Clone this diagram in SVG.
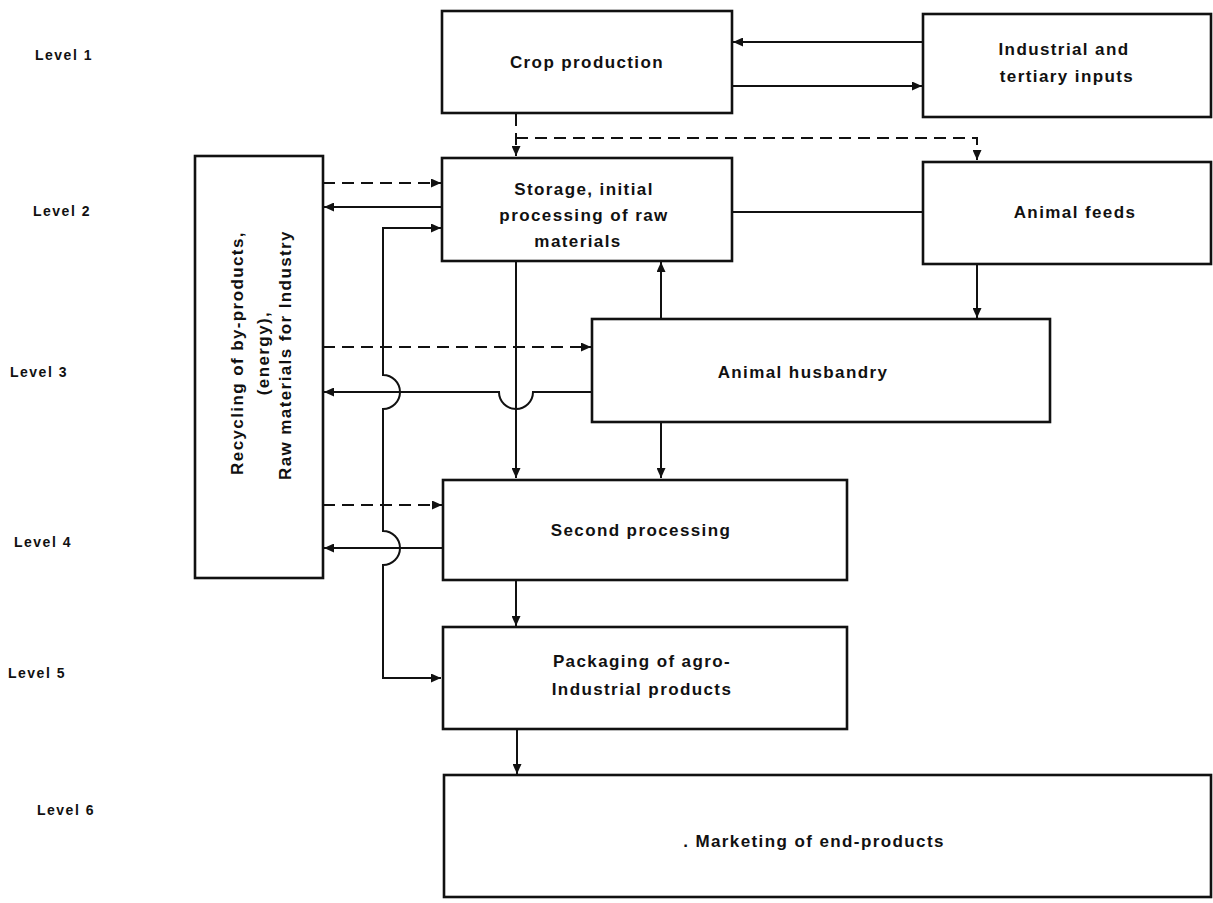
<svg xmlns="http://www.w3.org/2000/svg" width="1213" height="903" viewBox="0 0 1213 903">
<style>
.box{fill:#fff;stroke:#111;stroke-width:2.6}
.t{font-family:"Liberation Sans",Arial,sans-serif;font-weight:bold;font-size:17px;letter-spacing:1.4px;fill:#111;text-anchor:middle}
.lv{font-family:"Liberation Sans",Arial,sans-serif;font-weight:bold;font-size:14px;letter-spacing:1.5px;fill:#111}
.c{fill:none;stroke:#111;stroke-width:2}
.d{stroke-dasharray:12 7}
.a{marker-end:url(#ah)}
.b{marker-start:url(#ah);marker-end:url(#ah)}
</style>
<defs>
<marker id="ah" markerUnits="userSpaceOnUse" markerWidth="10" markerHeight="9" refX="10" refY="4.5" orient="auto-start-reverse" viewBox="0 0 10 9">
<path d="M0,0 L10,4.5 L0,9 z" fill="#111"/>
</marker>
</defs>
<rect width="1213" height="903" fill="#fff"/>

<g id="levels">
<text class="lv" x="35" y="60">Level 1</text>
<text class="lv" x="33" y="216">Level 2</text>
<text class="lv" x="10" y="377">Level 3</text>
<text class="lv" x="14" y="547">Level 4</text>
<text class="lv" x="8" y="678">Level 5</text>
<text class="lv" x="37" y="815">Level 6</text>
</g>

<g id="connectors">
<path class="c a" d="M923,42 H733"/>
<path class="c a" d="M732,86 H922"/>
<path class="c d a" d="M516,114 V156"/>
<path class="c d a" d="M516,138 H977 V160"/>
<path class="c d a" d="M323,183 H441"/>
<path class="c a" d="M442,207 H324"/>
<path class="c" d="M732,212 H923"/>
<path class="c b" d="M441,228 H383 V375 A17 17 0 0 1 383,409 V531 A17 17 0 0 1 383,565 V678 H441"/>
<path class="c a" d="M516,261 V478"/>
<path class="c a" d="M661,319 V262"/>
<path class="c a" d="M977,264 V318"/>
<path class="c d a" d="M323,347 H591"/>
<path class="c a" d="M592,392 H533 A17 17 0 0 1 499,392 H324"/>
<path class="c a" d="M661,423 V478"/>
<path class="c d a" d="M323,505 H442"/>
<path class="c a" d="M443,548 H324"/>
<path class="c a" d="M516,580 V626"/>
<path class="c a" d="M517,729 V774"/>
</g>

<g id="crop-production">
<rect class="box" x="442" y="11" width="290" height="102"/>
<text class="t" x="587" y="68">Crop production</text>
</g>

<g id="industrial-inputs">
<rect class="box" x="923" y="14" width="288" height="103"/>
<text class="t" x="1064" y="55">Industrial and</text>
<text class="t" x="1067" y="82">tertiary inputs</text>
</g>

<g id="storage">
<rect class="box" x="442" y="158" width="290" height="103"/>
<text class="t" x="584" y="195">Storage, initial</text>
<text class="t" x="584" y="221">processing of raw</text>
<text class="t" x="578" y="247">materials</text>
</g>

<g id="animal-feeds">
<rect class="box" x="923" y="162" width="288" height="102"/>
<text class="t" x="1075" y="218">Animal feeds</text>
</g>

<g id="recycling">
<rect class="box" x="195" y="156" width="128" height="422"/>
<text class="t" transform="translate(243,353) rotate(-90)">Recycling of by-products,</text>
<text class="t" transform="translate(269,353) rotate(-90)">(energy),</text>
<text class="t" transform="translate(291,355) rotate(-90)">Raw materials for Industry</text>
</g>

<g id="animal-husbandry">
<rect class="box" x="592" y="319" width="458" height="103"/>
<text class="t" x="803" y="378">Animal husbandry</text>
</g>

<g id="second-processing">
<rect class="box" x="443" y="480" width="404" height="100"/>
<text class="t" x="641" y="536">Second processing</text>
</g>

<g id="packaging">
<rect class="box" x="443" y="627" width="404" height="102"/>
<text class="t" x="642" y="667">Packaging of agro-</text>
<text class="t" x="642" y="695">Industrial products</text>
</g>

<g id="marketing">
<rect class="box" x="444" y="775" width="767" height="122"/>
<text class="t" x="814" y="847">. Marketing of end-products</text>
</g>
</svg>
